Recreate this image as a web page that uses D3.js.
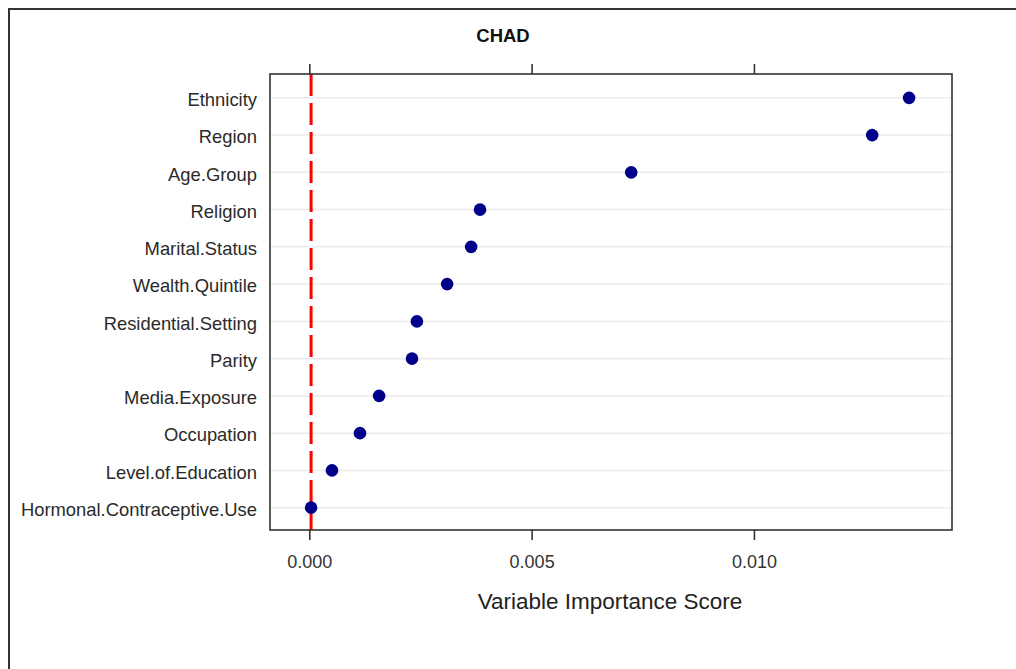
<!DOCTYPE html>
<html>
<head>
<meta charset="utf-8">
<script src="https://cdn.jsdelivr.net/npm/d3@7"></script>
<style>
  body { margin: 0; background: #fff; }
  svg { display: block; font-family: "Liberation Sans", Arial, sans-serif; }
</style>
</head>
<body>
<div id="chart"></div>
<script>
// variables, top to bottom
const variables = [
  "Ethnicity", "Region", "Age.Group", "Religion", "Marital.Status",
  "Wealth.Quintile", "Residential.Setting", "Parity", "Media.Exposure",
  "Occupation", "Level.of.Education", "Hormonal.Contraceptive.Use"
];
const scores = [
  0.01349, 0.01266, 0.00724, 0.00384, 0.00364,
  0.00310, 0.00242, 0.00231, 0.00157,
  0.00114, 0.00051, 0.00004
];
const xTicks = [0, 0.005, 0.010];
const refLine = 0.00004;

const W = 1016, H = 669;
const PANEL = { LEFT: 270, RIGHT: 952, TOP: 74, BOTTOM: 530 };

const data = variables.map((v, i) => ({ name: v, score: scores[i] }));

const svg = d3.select('#chart')
  .append('svg')
  .attr('width', W)
  .attr('height', H);

// scales
const x = d3.scaleLinear()
  .domain([-0.000884, 0.014455])
  .range([PANEL.LEFT, PANEL.RIGHT]);

const y = d3.scalePoint()
  .domain(variables)
  .range([PANEL.TOP + 1.5, PANEL.BOTTOM])
  .padding(0.6);

// outer frame (top + left only, picture is cropped)
svg.append('line')
  .attr('x1', 9).attr('x2', W).attr('y1', 9).attr('y2', 9)
  .attr('stroke', '#333').attr('stroke-width', 2);
svg.append('line')
  .attr('x1', 9).attr('x2', 9).attr('y1', 8).attr('y2', H)
  .attr('stroke', '#333').attr('stroke-width', 2);

// title
svg.append('text')
  .attr('x', 503)
  .attr('y', 42)
  .attr('text-anchor', 'middle')
  .attr('font-weight', 'bold')
  .attr('font-size', 18.5)
  .attr('fill', '#111')
  .text('CHAD');

// gridlines
svg.append('g')
  .selectAll('line')
  .data(variables)
  .join('line')
  .attr('x1', PANEL.LEFT).attr('x2', PANEL.RIGHT)
  .attr('y1', d => y(d)).attr('y2', d => y(d))
  .attr('stroke', '#ebebeb')
  .attr('stroke-width', 1.5);

// reference line
svg.append('line')
  .attr('x1', x(refLine)).attr('x2', x(refLine))
  .attr('y1', PANEL.TOP).attr('y2', PANEL.BOTTOM)
  .attr('stroke', '#ff0000')
  .attr('stroke-width', 3)
  .attr('stroke-dasharray', '22,7');

// points
svg.append('g')
  .selectAll('circle')
  .data(data)
  .join('circle')
  .attr('cx', d => x(d.score))
  .attr('cy', d => y(d.name))
  .attr('r', 6.3)
  .attr('fill', '#00008b');

// panel border
svg.append('rect')
  .attr('x', PANEL.LEFT).attr('y', PANEL.TOP)
  .attr('width', PANEL.RIGHT - PANEL.LEFT)
  .attr('height', PANEL.BOTTOM - PANEL.TOP)
  .attr('fill', 'none')
  .attr('stroke', '#333')
  .attr('stroke-width', 1.6);

// bottom axis
const xAxis = svg.append('g')
  .attr('transform', `translate(0, ${PANEL.BOTTOM})`)
  .call(d3.axisBottom(x).tickValues(xTicks).tickFormat(d3.format('.3f')).tickSize(10).tickPadding(15));
xAxis.select('.domain').remove();
xAxis.selectAll('.tick line').attr('stroke', '#333').attr('stroke-width', 1.6);
xAxis.selectAll('.tick text')
  .attr('font-size', 18)
  .attr('font-family', '"Liberation Sans", Arial, sans-serif')
  .attr('fill', '#333');

// top ticks, no labels
const xTop = svg.append('g')
  .attr('transform', `translate(0, ${PANEL.TOP})`)
  .call(d3.axisTop(x).tickValues(xTicks).tickFormat('').tickSize(10));
xTop.select('.domain').remove();
xTop.selectAll('.tick line').attr('stroke', '#333').attr('stroke-width', 1.6);

// y labels
const yAxis = svg.append('g')
  .attr('transform', `translate(${PANEL.LEFT}, 0)`)
  .call(d3.axisLeft(y).tickSize(0).tickPadding(13));
yAxis.select('.domain').remove();
yAxis.selectAll('.tick text')
  .attr('font-size', 18.4)
  .attr('dy', '0.42em')
  .attr('font-family', '"Liberation Sans", Arial, sans-serif')
  .attr('fill', '#2a2a2a');

// x title
svg.append('text')
  .attr('x', 610)
  .attr('y', 609)
  .attr('text-anchor', 'middle')
  .attr('font-size', 22.5)
  .attr('fill', '#222')
  .text('Variable Importance Score');
</script>
</body>
</html>
